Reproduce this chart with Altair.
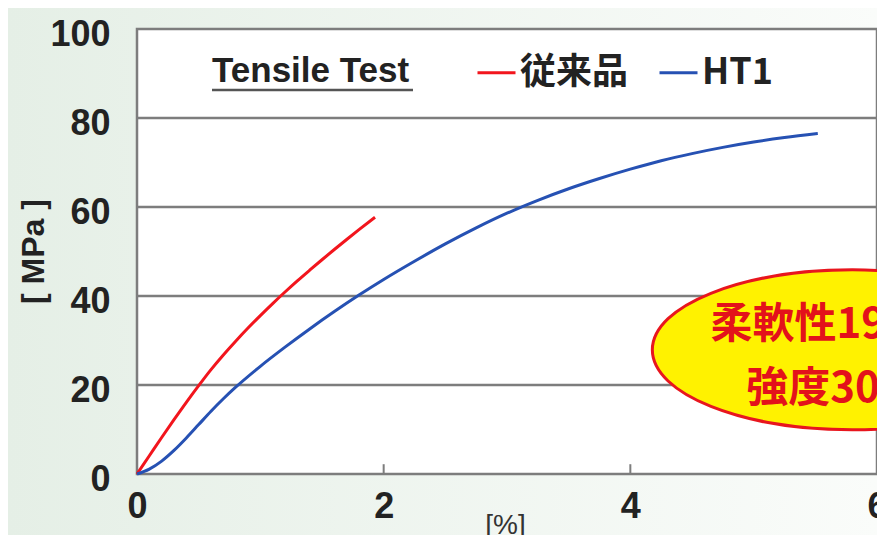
import altair as alt
import pandas as pd

# ---- data ----
red_x = [0, 0.1, 0.2, 0.3, 0.4, 0.5, 0.6, 0.7, 0.8, 0.9, 1.0, 1.1, 1.2, 1.3, 1.4, 1.5, 1.6, 1.7, 1.8, 1.93]
red_y = [0, 4.1, 8.2, 12.2, 16.1, 19.85, 23.45, 26.75, 29.85, 32.8, 35.6, 38.3, 40.9, 43.4, 45.8, 48.15,
         50.45, 52.7, 54.9, 57.7]
blue_x = [0, 0.1, 0.2, 0.3, 0.4, 0.5, 0.6, 0.7, 0.8, 1.0, 1.2, 1.4, 1.6, 1.8, 2.0, 2.25, 2.5, 2.75,
          3.0, 3.25, 3.5, 3.75, 4.0, 4.25, 4.5, 4.75, 5.0, 5.25, 5.52]
blue_y = [0, 1.1, 2.9, 5.3, 8.1, 11.1, 14.1, 16.9, 19.5, 24.2, 28.5, 32.6, 36.5, 40.2, 43.7, 47.8, 51.7, 55.3,
          58.6, 61.5, 64.1, 66.4, 68.5, 70.4, 72.0, 73.4, 74.6, 75.6, 76.5]
series_names = ["従来品", "HT1"]
series_colors = ["#f2151d", "#2651b3"]
x_ticks = [0, 2, 4, 6]
y_ticks = [0, 20, 40, 60, 80, 100]
grid_y = [20, 40, 60, 80]
inner_ticks = [2, 4]
x_domain = [0, 6]
y_domain = [0, 100]
callout_text = ["柔軟性190%UP", "強度30%UP"]
callout_x = [4.65, 4.94]
callout_y = [33.4, 19.0]
ellipse_center = (5.80, 27.9)

lines_df = pd.DataFrame(
    {"x": red_x + blue_x,
     "y": red_y + blue_y,
     "series": [series_names[0]] * len(red_x) + [series_names[1]] * len(blue_x)}
)
frame_df = pd.DataFrame({"x": [x_domain[0]], "x2": [x_domain[1]], "y": [y_domain[0]], "y2": [y_domain[1]]})
grid_df = pd.DataFrame({"y": grid_y})
tick_df = pd.DataFrame({"x": inner_ticks, "y": [0] * len(inner_ticks), "y2": [2.2] * len(inner_ticks)})
callout_df = pd.DataFrame({"x": callout_x, "y": callout_y, "t": callout_text})
ellipse_df = pd.DataFrame({"x": [ellipse_center[0]], "y": [ellipse_center[1]]})
one = pd.DataFrame({"a": [0]})

xs = alt.Scale(domain=x_domain, nice=False, zero=False)
ys = alt.Scale(domain=y_domain, nice=False, zero=False)

GREY = "#7d7d7d"
INK = "#222222"

x_axis = alt.Axis(
    values=x_ticks, format="d", title="[%]", grid=False, ticks=False, domain=False,
    labelFont="Liberation Sans", labelFontSize=36, labelFontWeight="bold", labelColor=INK,
    labelPadding=15, labelFlush=False, labelOverlap=False,
    titleFont="Liberation Sans", titleFontSize=28, titleFontWeight="normal", titleColor="#333333",
    titleX=368, titleY=37, titleBaseline="top", titleAlign="center", zindex=1)
y_axis = alt.Axis(
    values=y_ticks, format="d", title="[ MPa ]", grid=False, ticks=False, domain=False,
    labelFont="Liberation Sans", labelFontSize=36, labelFontWeight="bold", labelColor=INK,
    labelPadding=27, labelOffset=5, labelFlush=False, labelOverlap=False,
    titleFont="Liberation Sans", titleFontSize=32, titleFontWeight="bold", titleColor=INK,
    titleAngle=270, titleX=-104, titleY=222, titleAlign="center", titleBaseline="middle",
    zindex=1)

# NB: other layers leave axis unspecified so the shared axis is not disabled
X = lambda: alt.X("x:Q", scale=xs)
Y = lambda: alt.Y("y:Q", scale=ys)

bg = alt.Chart(one).mark_rect(
    fill=alt.LinearGradient(
        gradient="linear",
        stops=[alt.GradientStop(color="#e5efe6", offset=0),
               alt.GradientStop(color="#fafcfa", offset=1)],
        x1=0, x2=1, y1=0, y2=0),
    strokeWidth=0,
).encode(x=alt.value(-129), x2=alt.value(740), y=alt.value(-21), y2=alt.value(506))

frame = alt.Chart(frame_df).mark_rect(fill="white", stroke=GREY, strokeWidth=2.5).encode(
    x=X(), x2="x2:Q", y=Y(), y2="y2:Q")

grid = alt.Chart(grid_df).mark_rule(color=GREY, strokeWidth=2.5).encode(y=Y())

ticks = alt.Chart(tick_df).mark_rule(color=GREY, strokeWidth=2).encode(x=X(), y=Y(), y2="y2:Q")

lines = alt.Chart(lines_df).mark_line(strokeWidth=3, interpolate="monotone").encode(
    x=alt.X("x:Q", scale=xs, axis=x_axis),
    y=alt.Y("y:Q", scale=ys, axis=y_axis),
    color=alt.Color("series:N", sort=series_names,
                    scale=alt.Scale(domain=series_names, range=series_colors),
                    legend=alt.Legend(
                        orient="none", legendX=75, legendY=23, direction="horizontal",
                        title="Tensile Test", titleOrient="left", titleAnchor="middle",
                        titleBaseline="middle",
                        titleFont="Liberation Sans", titleFontSize=35, titleFontWeight="bold",
                        titleColor=INK, titlePadding=66, titleLimit=400,
                        symbolType="stroke", symbolSize=1444, symbolStrokeWidth=3,
                        labelFont="Noto Sans CJK JP", labelFontSize=36, labelFontWeight="bold",
                        labelColor=INK, labelOffset=3, columnPadding=24, padding=0,
                        labelLimit=300, zindex=1)),
)

underline = alt.Chart(one).mark_rule(color="#555555", strokeWidth=2.5).encode(
    x=alt.value(75), x2=alt.value(276), y=alt.value(61))

ellipse_path = ("M -1 0 C -1 -0.2209 -0.5523 -0.4 0 -0.4 C 0.5523 -0.4 1 -0.2209 1 0 "
                "C 1 0.2209 0.5523 0.4 0 0.4 C -0.5523 0.4 -1 0.2209 -1 0 Z")
ellipse = alt.Chart(ellipse_df).mark_point(
    shape=ellipse_path, size=160000, filled=True, fill="#fff200", stroke="#e8161e",
    strokeWidth=3, opacity=1, fillOpacity=1, strokeOpacity=1,
).encode(x=X(), y=Y())

callout = alt.Chart(callout_df).mark_text(
    align="left", baseline="middle", font="Noto Sans CJK JP", fontWeight="bold",
    fontSize=42, color="#e3121b",
).encode(x=X(), y=Y(), text="t:N")

chart = alt.layer(bg, frame, grid, ticks, lines, underline, ellipse, callout).properties(
    width=740, height=445,
    autosize=alt.AutoSizeParams(type="none"),
    padding={"left": 129, "top": 21, "right": 0, "bottom": 61},
    background="#ffffff",
).configure_view(stroke="transparent")

chart.save("out.html", embed_options={"renderer": "svg", "actions": False})
